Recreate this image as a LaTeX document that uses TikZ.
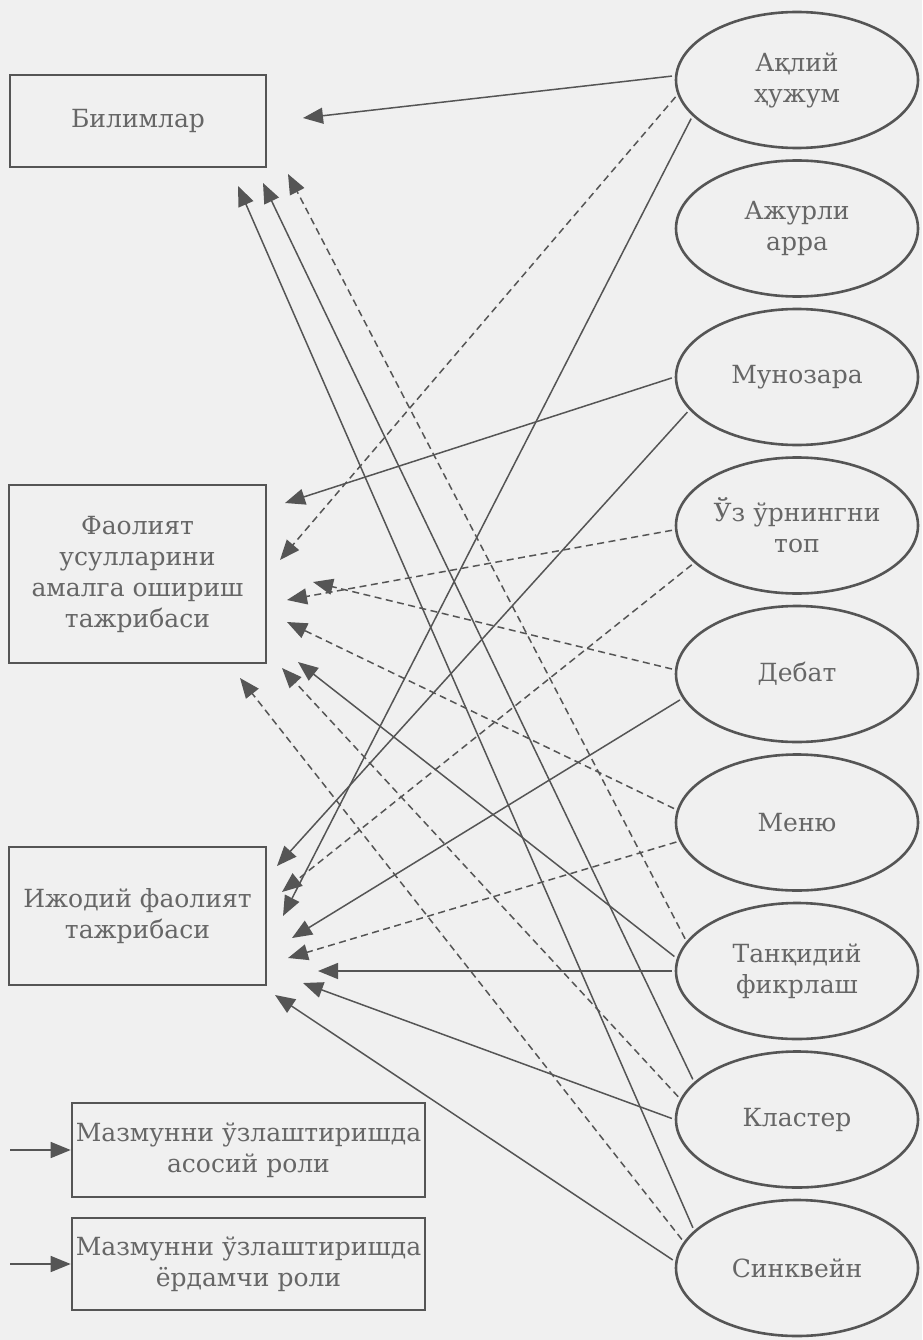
\documentclass[tikz,border=0pt]{standalone}
\usepackage{fontspec}
\setmainfont{DejaVu Serif}
\usepackage{tikz}
\usetikzlibrary{shapes.geometric,arrows.meta}
\definecolor{paper}{HTML}{F0F0F0}
\definecolor{ink}{HTML}{555555}
\definecolor{txt}{HTML}{666666}
\newcommand{\lbl}{\fontsize{25}{31}\selectfont}

\begin{document}
\begin{tikzpicture}[x=1pt, y=-1pt,
		box/.style={draw=ink, line width=2.6pt, text=txt, align=center, inner sep=2pt, font=\lbl},
		meth/.style={ellipse, draw=ink, line width=2.6pt, text=txt, align=center, inner sep=0pt,
			minimum width=242pt, minimum height=136pt, font=\lbl},
		con/.style={draw=ink, line width=1.5pt, shorten <=3pt, -{Triangle[length=20pt,width=16pt]}},
		aux/.style={con, dash pattern=on 7pt off 4.5pt}]
	\fill[paper] (0,0) rectangle (922,1340);
	\useasboundingbox (0,0) rectangle (922,1340);

	\node[box, minimum width=256pt, minimum height=92pt] (bil) at (138,121) {Билимлар};
	\node[box, minimum width=257pt, minimum height=178pt] (faol) at (137.5,574)
		{Фаолият\\усулларини\\амалга ошириш\\тажрибаси};
	\node[box, minimum width=257pt, minimum height=138pt] (ijod) at (137.5,916)
		{Ижодий фаолият\\тажрибаси};
	\node[box, minimum width=353pt, minimum height=94pt] (leg1) at (248.5,1150)
		{Мазмунни ўзлаштиришда\\асосий роли};
	\node[box, minimum width=353pt, minimum height=92pt] (leg2) at (248.5,1264)
		{Мазмунни ўзлаштиришда\\ёрдамчи роли};

	\node[meth] (aql) at (797,80) {Ақлий\\ҳужум};
	\node[meth] (ajur) at (797,228.5) {Ажурли\\арра};
	\node[meth] (munoz) at (797,377) {Мунозара};
	\node[meth] (uzurn) at (797,525.5) {Ўз ўрнингни\\топ};
	\node[meth] (debat) at (797,674) {Дебат};
	\node[meth] (menyu) at (797,822.5) {Меню};
	\node[meth] (tanq) at (797,971) {Танқидий\\фикрлаш};
	\node[meth] (klast) at (797,1119.5) {Кластер};
	\node[meth] (sinkv) at (797,1268) {Синквейн};

	\coordinate (b-1) at (303,118);
	\coordinate (b-2) at (238,186);
	\coordinate (b-3) at (263,183);
	\coordinate (b-4) at (288,174);
	\coordinate (f-1) at (285,503);
	\coordinate (f-2) at (280,560);
	\coordinate (f-3) at (313,582);
	\coordinate (f-4) at (287,600);
	\coordinate (f-5) at (287,622);
	\coordinate (f-6) at (298,662);
	\coordinate (f-7) at (282,668);
	\coordinate (f-8) at (240,678);
	\coordinate (i-1) at (277,866);
	\coordinate (i-2) at (282,892);
	\coordinate (i-3) at (283,916);
	\coordinate (i-4) at (292,938);
	\coordinate (i-5) at (288,958);
	\coordinate (i-6) at (318,971);
	\coordinate (i-7) at (303,983);
	\coordinate (i-8) at (275,995);
	\coordinate (l-1) at (7,1150);
	\coordinate (l-2) at (7,1264);

	\path
	(aql.178) edge [con] (b-1)
	(aql.187) edge [aux] (f-2)
	(aql.199) edge [con] (i-3)
	(munoz.180) edge [con] (f-1)
	(munoz.197) edge [con] (i-1)
	(uzurn.182) edge [aux] (f-4)
	(uzurn.200) edge [aux] (i-2)
	(debat.178) edge [aux] (f-3)
	(debat.192) edge [con] (i-4)
	(menyu.174) edge [aux] (f-5)
	(menyu.189) edge [aux] (i-5)
	(tanq.165) edge [aux] (b-4)
	(tanq.174) edge [con] (f-6)
	(tanq.180) edge [con] (i-6)
	(klast.160) edge [con] (b-3)
	(klast.170) edge [aux] (f-7)
	(klast.180) edge [con] (i-7)
	(sinkv.160) edge [con] (b-2)
	(sinkv.167) edge [aux] (f-8)
	(sinkv.177) edge [con] (i-8)
	(l-1) edge [con] (leg1.west)
	(l-2) edge [con] (leg2.west);

\end{tikzpicture}
\end{document}
